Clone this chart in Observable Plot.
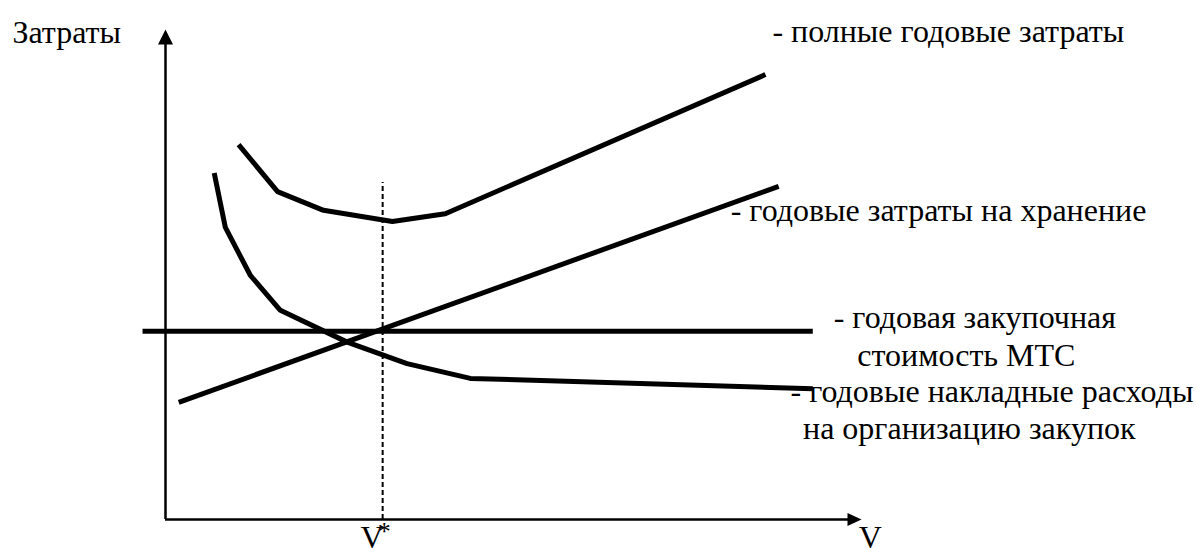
<!DOCTYPE html>
<html>
<head>
<meta charset="utf-8">
<script src="https://cdn.jsdelivr.net/npm/d3@7"></script>
<script src="https://cdn.jsdelivr.net/npm/@observablehq/plot@0.6"></script>
<style>
  html, body { margin: 0; padding: 0; background: #fff; }
</style>
</head>
<body>
<div id="chart"></div>
<script>
// Schematic values in abstract units (V on x, cost on y; axis arrows at 100)
const totalX = [10.5, 16.1, 22.7, 32.6, 40.2, 86.2];
const totalY = [76.5, 66.9, 63.1, 60.8, 62.4, 90.8];

const overheadX = [7.0, 8.6, 12.2, 16.5, 26.1, 34.7, 43.8, 93.0];
const overheadY = [70.7, 59.6, 49.8, 42.7, 36.2, 31.8, 28.8, 26.7];

const storageX = [1.9, 88.1];
const storageY = [23.9, 68.0];

const purchaseX = [-3.3, 93.0];
const purchaseY = [38.4, 38.4];

const vStar = 31.2;
const vStarTop = 68.8;

const labelTexts = [
  "Затраты",
  "- полные годовые затраты",
  "- годовые затраты на хранение",
  "- годовая закупочная",
  "стоимость МТС",
  "- годовые накладные расходы",
  "на организацию закупок",
  "V",
  "V"
];
const labelX = [-22.0, 87.2, 81.2, 96.0, 99.4, 89.8, 91.6, 99.6, 28.0];
const labelY = [97.3, 97.4, 61.0, 39.0, 31.4, 23.9, 16.4, -5.9, -5.9];

const toRows = (xs, ys) => xs.map((x, i) => ({x, y: ys[i]}));
const labels = labelTexts.map((t, i) => ({t, x: labelX[i], y: labelY[i]}));

const arrowUp = {draw(ctx) { ctx.moveTo(0, 0); ctx.lineTo(-7.5, 15); ctx.lineTo(7.5, 15); ctx.closePath(); }};
const arrowRight = {draw(ctx) { ctx.moveTo(0, 0); ctx.lineTo(-14, -6.5); ctx.lineTo(-14, 6.5); ctx.closePath(); }};

const font = "Liberation Serif";
const lineStyle = {x: "x", y: "y", stroke: "black", strokeWidth: 5, strokeLinecap: "butt", strokeLinejoin: "miter"};

const plot = Plot.plot({
  width: 1197,
  height: 549,
  x: {domain: [0, 100], range: [165, 861], axis: null},
  y: {domain: [0, 100], range: [519, 29], axis: null},
  marks: [
    Plot.ruleY([0], {x1: 0, x2: 98.5, stroke: "black", strokeWidth: 2.5}),
    Plot.ruleX([0], {y1: 0, y2: 98.5, stroke: "black", strokeWidth: 2.5}),
    Plot.dot([{x: 0, y: 100}], {x: "x", y: "y", symbol: arrowUp, r: 5, fill: "black", stroke: null}),
    Plot.dot([{x: 100, y: 0}], {x: "x", y: "y", symbol: arrowRight, r: 5, fill: "black", stroke: null}),
    Plot.ruleX([vStar], {y1: 0, y2: vStarTop, stroke: "black", strokeWidth: 2, strokeDasharray: "5,3"}),
    Plot.line(toRows(purchaseX, purchaseY), lineStyle),
    Plot.line(toRows(storageX, storageY), lineStyle),
    Plot.line(toRows(overheadX, overheadY), lineStyle),
    Plot.line(toRows(totalX, totalY), lineStyle),
    Plot.text(labels, {x: "x", y: "y", text: "t", textAnchor: "start", lineAnchor: "bottom", fontSize: 32, fontFamily: font, fill: "black"}),
    Plot.text([{x: vStar, y: -4.1}], {x: "x", y: "y", text: () => "*", textAnchor: "start", lineAnchor: "bottom", fontSize: 26, fontFamily: font, dx: -5, fill: "black"})
  ]
});
document.getElementById("chart").appendChild(plot);
</script>
</body>
</html>
